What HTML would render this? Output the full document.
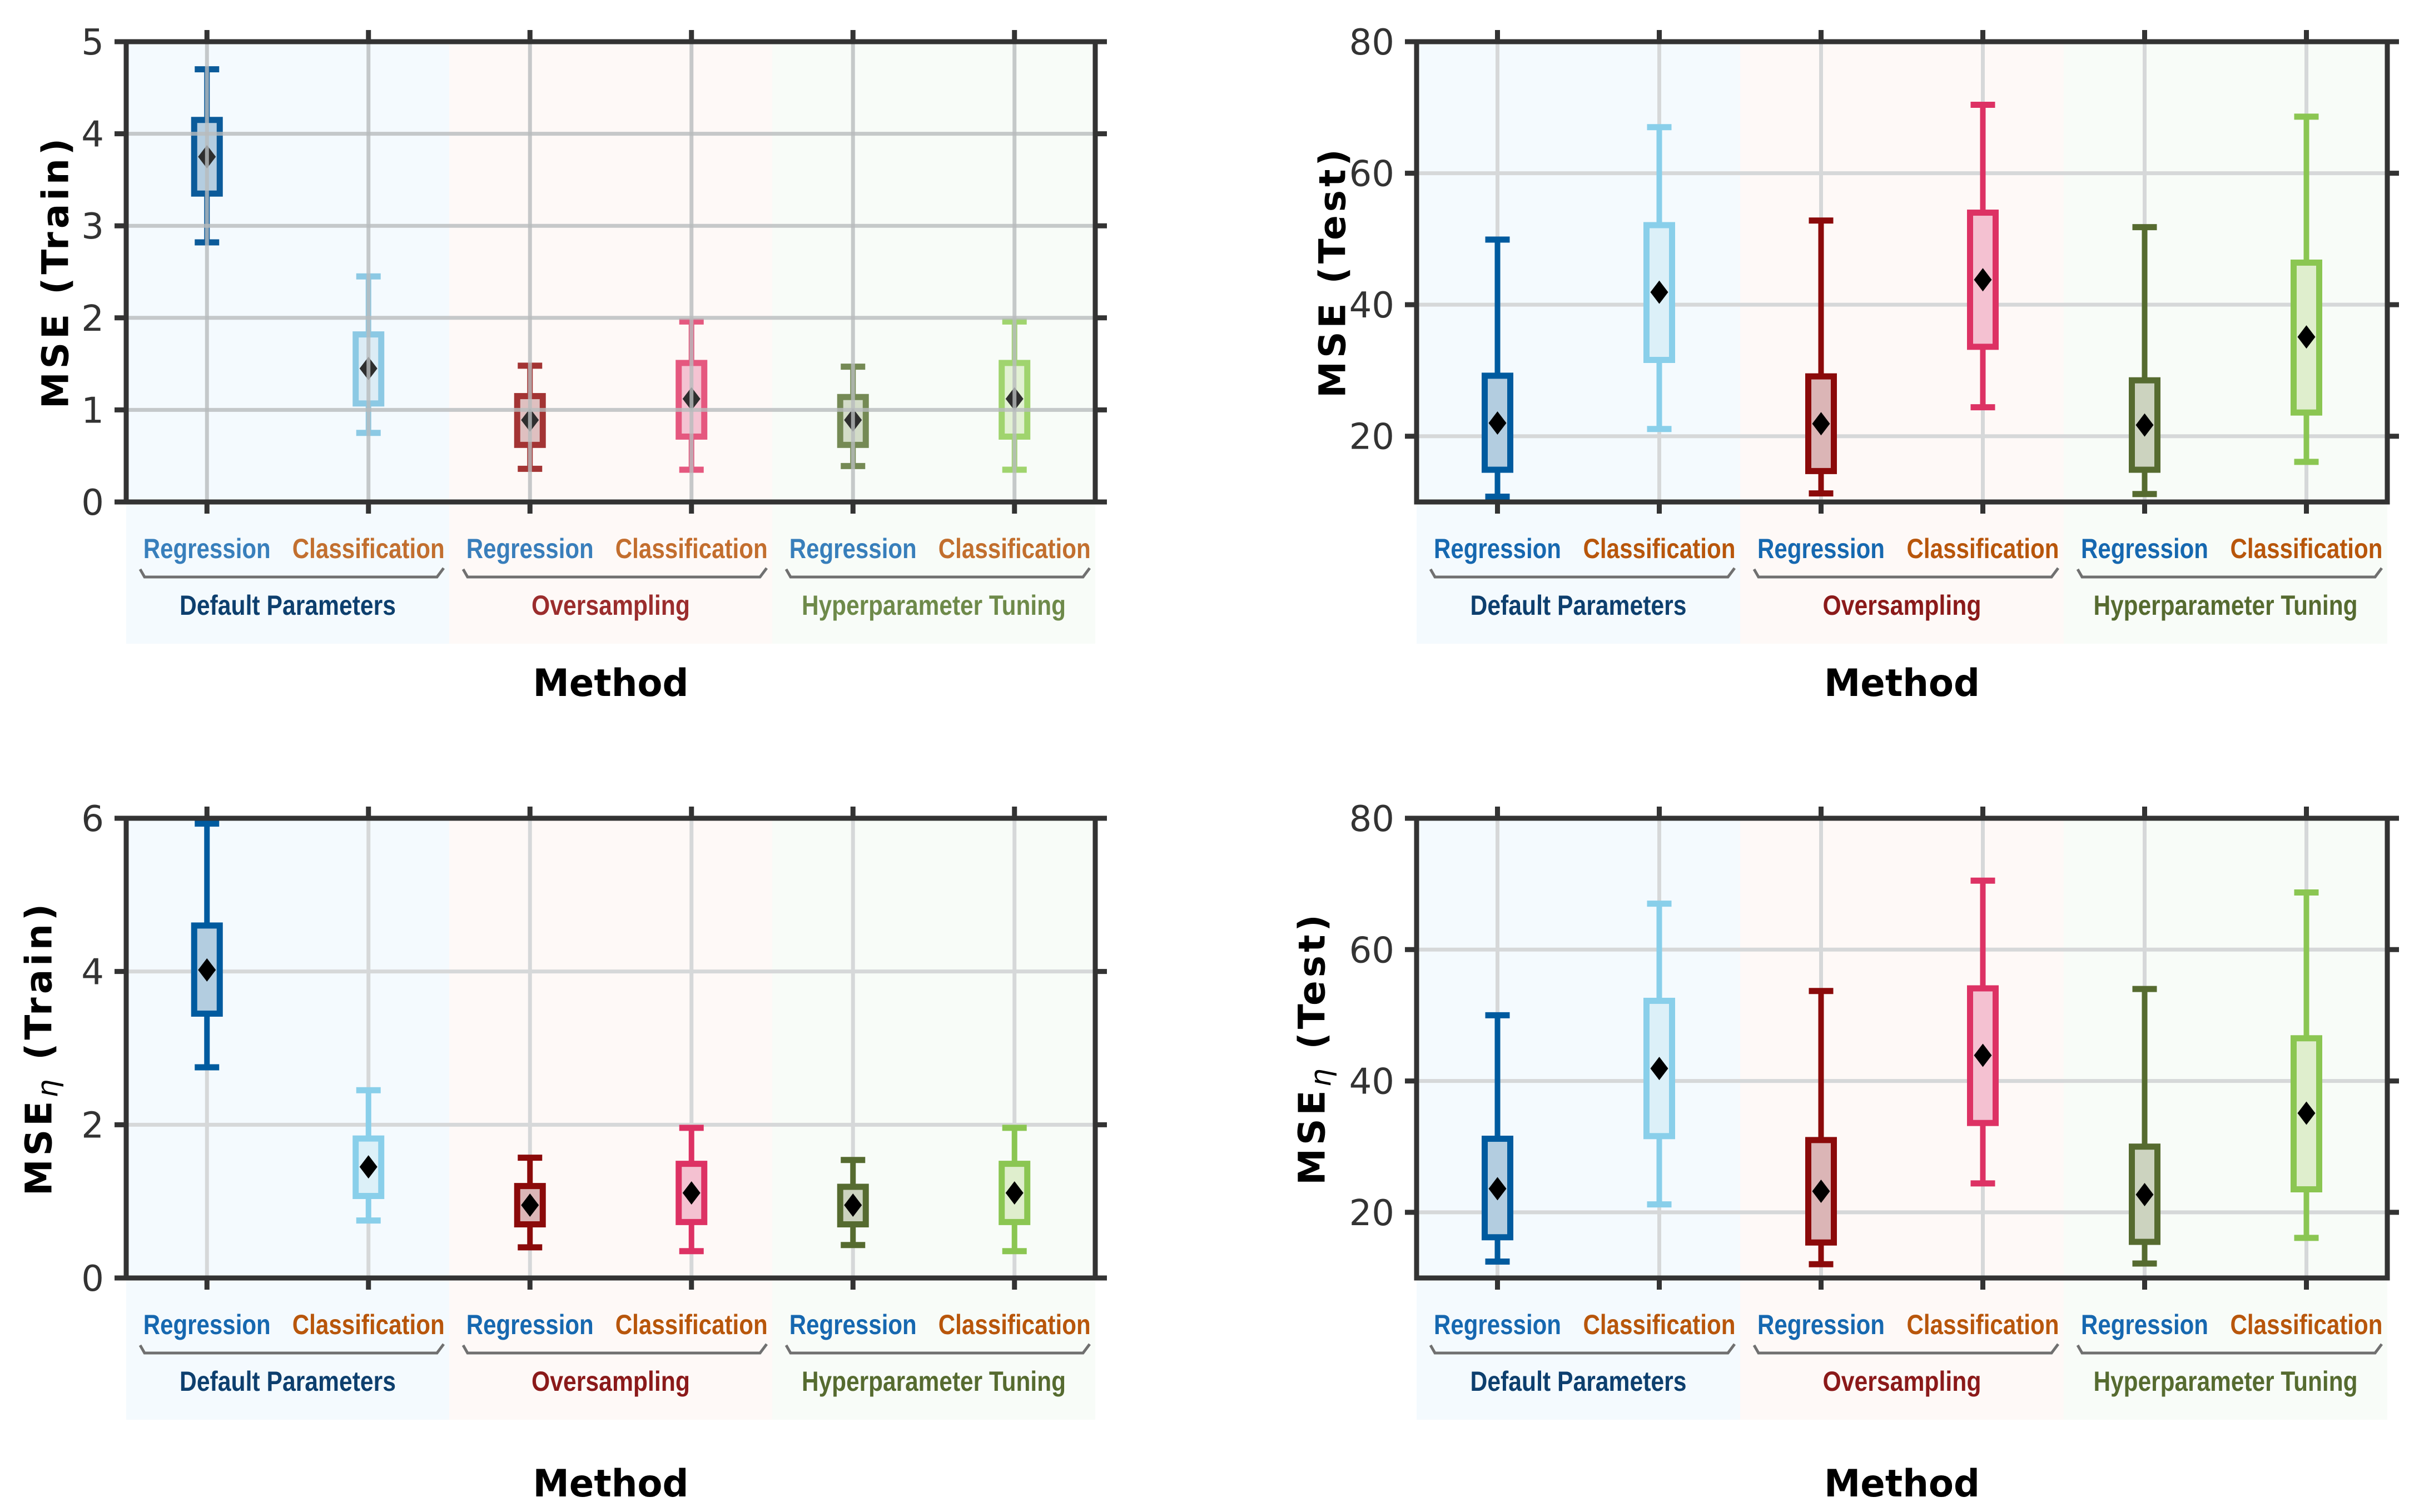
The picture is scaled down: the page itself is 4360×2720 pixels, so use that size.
<!DOCTYPE html>
<html><head><meta charset="utf-8">
<style>
html,body{margin:0;padding:0;background:#fff;}
svg{display:block;}
text{font-family:"DejaVu Sans","Liberation Sans",sans-serif;}
.lab{font-family:"Liberation Sans Narrow","Liberation Sans",sans-serif;font-weight:bold;}
</style></head>
<body>
<svg id="fig" xmlns="http://www.w3.org/2000/svg" width="4360" height="2720" viewBox="0 0 4360 2720"></svg>
<script>
// ---- data ----
const categories = ["Regression","Classification","Regression","Classification","Regression","Classification"];
const groups = ["Default Parameters","Oversampling","Hyperparameter Tuning"];

// Top-left: MSE (Train)
const tlLow  = [2.82, 0.75, 0.36, 0.35, 0.39, 0.35];
const tlQ1   = [3.35, 1.07, 0.62, 0.71, 0.62, 0.71];
const tlMean = [3.75, 1.45, 0.89, 1.12, 0.89, 1.12];
const tlQ3   = [4.15, 1.82, 1.15, 1.51, 1.14, 1.51];
const tlHigh = [4.70, 2.45, 1.48, 1.96, 1.47, 1.96];
const tlTicks = [0,1,2,3,4,5];

// Top-right: MSE (Test)
const trLow  = [10.8, 21.1, 11.3, 24.4, 11.2, 16.1];
const trQ1   = [14.9, 31.6, 14.7, 33.6, 14.9, 23.6];
const trMean = [22.0, 41.9, 21.9, 43.8, 21.7, 35.1];
const trQ3   = [29.2, 52.1, 29.1, 54.0, 28.5, 46.4];
const trHigh = [49.9, 67.0, 52.8, 70.4, 51.8, 68.6];
const trTicks = [20,40,60,80];

// Bottom-left: MSE_eta (Train)
const blLow  = [2.75, 0.75, 0.40, 0.35, 0.43, 0.35];
const blQ1   = [3.45, 1.07, 0.70, 0.73, 0.70, 0.73];
const blMean = [4.02, 1.45, 0.95, 1.11, 0.95, 1.11];
const blQ3   = [4.60, 1.82, 1.20, 1.49, 1.19, 1.49];
const blHigh = [5.93, 2.45, 1.57, 1.96, 1.54, 1.96];
const blTicks = [0,2,4,6];

// Bottom-right: MSE_eta (Test)
const brLow  = [12.5, 21.2, 12.1, 24.4, 12.2, 16.1];
const brQ1   = [16.2, 31.6, 15.4, 33.6, 15.5, 23.5];
const brMean = [23.6, 41.9, 23.2, 43.9, 22.7, 35.1];
const brQ3   = [31.2, 52.2, 31.0, 54.1, 30.0, 46.5];
const brHigh = [50.0, 67.0, 53.7, 70.5, 54.0, 68.7];
const brTicks = [20,40,60,80];

// ---- styling ----
const NS = "http://www.w3.org/2000/svg";
const svg = document.getElementById("fig");
const strongCol = ["#005b9f","#89cfea","#8b0a0a","#dd3264","#566b30","#8bc652"];
const strongFill = ["#b3cde0","#dcf0f8","#dbb5b6","#f4c1d1","#ccd3bf","#dfeecd"];
const fadeCol = ["#0b5b9a","#8cc9e4","#a33434","#e5587f","#758a55","#a0d46e"];
const fadeFill = ["#b4cde0","#dcecf5","#dfc0c0","#f4c3d2","#d3dcc8","#e2f1d3"];
const bgCol = ["#f4fafe","#fef9f7","#f8fcf8"];
const groupCol = ["#0d3f6e","#8b1a1a","#566b30"];
const groupColFade = ["#0d3f6e","#9b2d2d","#6e8a4a"];
const regCol = "#1668b0", clsCol = "#b8560b";

function el(tag, attrs, parent){
  const e = document.createElementNS(NS, tag);
  for (const k in attrs) e.setAttribute(k, attrs[k]);
  (parent||svg).appendChild(e);
  return e;
}

function panel(p){
  const g = el("g", {});
  
  
  const W = p.x1 - p.x0, step = W/6;
  const xc = i => p.x0 + step*(i+0.5);
  const ys = v => p.y1 - (v - p.ymin)/(p.ymax - p.ymin)*(p.y1 - p.y0);
  for (let k=0;k<3;k++){
    const r = el("rect",{x:p.x0+k*2*step, y:p.y0, width:2*step, height:(p.y1-p.y0)+255, fill:bgCol[k]}, g);
    
    
  }
  const gridG = el("g",{},g);
  const drawGrid = () => {
    p.ticks.forEach(t=>{
      const l = el("line",{x1:p.x0,x2:p.x1,y1:ys(t),y2:ys(t),stroke:p.fade?"#b8bcbd":"#d6d8d9","stroke-width":7,"stroke-opacity":p.fade?0.8:1}, gridG);
      
      
    });
    for (let i=0;i<6;i++){
      const l = el("line",{x1:xc(i),x2:xc(i),y1:p.y0,y2:p.y1,stroke:p.fade?"#b8bcbd":"#d6d8d9","stroke-width":7,"stroke-opacity":p.fade?0.8:1}, gridG);
      
      
    }
  };
  const boxG = el("g",{},g);
  const col = p.fade?fadeCol:strongCol, fil = p.fade?fadeFill:strongFill;
  for (let i=0;i<6;i++){
    const bx = el("g",{},boxG);
    
    
    const c = xc(i);
    el("line",{x1:c,x2:c,y1:ys(p.high[i]),y2:ys(p.q3[i]),stroke:col[i],"stroke-width":10},bx);
    el("line",{x1:c,x2:c,y1:ys(p.q1[i]),y2:ys(p.low[i]),stroke:col[i],"stroke-width":10},bx);
    el("line",{x1:c-22,x2:c+22,y1:ys(p.high[i]),y2:ys(p.high[i]),stroke:col[i],"stroke-width":11},bx);
    el("line",{x1:c-22,x2:c+22,y1:ys(p.low[i]),y2:ys(p.low[i]),stroke:col[i],"stroke-width":11},bx);
    el("rect",{x:c-23,y:ys(p.q3[i]),width:46,height:ys(p.q1[i])-ys(p.q3[i]),fill:fil[i],stroke:col[i],"stroke-width":11},bx);
    const m = ys(p.mean[i]);
    el("polygon",{points:`${c},${m-21} ${c+16},${m} ${c},${m+21} ${c-16},${m}`,fill:p.fade?"#2e2e2e":"#000"},bx);
  }
  if (p.fade) g.appendChild(gridG); else g.insertBefore(gridG, boxG);
  drawGrid();
  const ax = "#333";
  const frame = el("rect",{x:p.x0,y:p.y0,width:W,height:p.y1-p.y0,fill:"none",stroke:ax,"stroke-width":9},g);
  
  
  p.ticks.forEach(t=>{
    const y = ys(t);
    el("line",{x1:p.x0-21,x2:p.x0,y1:y,y2:y,stroke:ax,"stroke-width":9},g);
    el("line",{x1:p.x1,x2:p.x1+21,y1:y,y2:y,stroke:ax,"stroke-width":9},g);
    const tl = el("text",{x:p.x0-40,y:y+23,"text-anchor":"end","font-size":64,fill:"#333"},g);
    tl.textContent = t;
    
    
  });
  for (let i=0;i<6;i++){
    el("line",{x1:xc(i),x2:xc(i),y1:p.y0-21,y2:p.y0,stroke:ax,"stroke-width":9},g);
    el("line",{x1:xc(i),x2:xc(i),y1:p.y1,y2:p.y1+21,stroke:ax,"stroke-width":9},g);
    const t = el("text",{x:xc(i),y:p.y1+101,"text-anchor":"middle","font-size":50,fill:i%2?clsCol:regCol,"class":"lab",
      textLength:i%2?274:229,lengthAdjust:"spacingAndGlyphs","fill-opacity":p.fade?0.85:1},g);
    t.textContent = categories[i];
    
    
  }
  const gl = [389,285,475];
  for (let k=0;k<3;k++){
    const a = p.x0+k*2*step+25, b = p.x0+(k+1)*2*step-10, y = p.y1+135;
    const br = el("path",{d:`M${a},${y-14} L${a+8},${y} L${b-12},${y} L${b},${y-16}`,fill:"none",stroke:"#707070","stroke-width":5},g);
    
    
    const t = el("text",{x:p.x0+(k*2+1)*step,y:p.y1+203,"text-anchor":"middle","font-size":50,fill:p.fade?groupColFade[k]:groupCol[k],"class":"lab",
      textLength:gl[k],lengthAdjust:"spacingAndGlyphs"},g);
    t.textContent = groups[k];
    
    
  }
  const xt = el("text",{x:(p.x0+p.x1)/2,y:p.xTitleY,"text-anchor":"middle","font-size":68,"font-weight":"bold",fill:"#000",textLength:280,lengthAdjust:"spacingAndGlyphs"},g);
  xt.textContent = "Method";
  
  
  const cy = (p.y0+p.y1)/2;
  const yt = el("text",{x:p.yLabX,y:cy,"text-anchor":"middle","font-size":66,"font-weight":"bold",fill:"#000",
    transform:`rotate(-90 ${p.yLabX} ${cy})`,"dominant-baseline":"central","letter-spacing":6},g);
  
  
  if (p.sub){
    yt.appendChild(document.createTextNode("MSE"));
    const s = el("tspan",{"font-style":"italic","font-weight":"normal","font-size":52,"baseline-shift":"-30%",fill:"#000"},yt);
    s.textContent = "η";
    yt.appendChild(document.createTextNode(" "+p.yLab));
  } else {
    yt.textContent = "MSE "+p.yLab;
  }
}

panel({name:"panel-mse-train", x0:227,x1:1970,y0:75,y1:903,ymin:0,ymax:5,ticks:tlTicks,
  low:tlLow,q1:tlQ1,mean:tlMean,q3:tlQ3,high:tlHigh,fade:true,yLab:"(Train)",yLabX:100,xTitleY:1252});
panel({name:"panel-mse-test", x0:2548,x1:4294,y0:75,y1:903,ymin:10,ymax:80,ticks:trTicks,
  low:trLow,q1:trQ1,mean:trMean,q3:trQ3,high:trHigh,fade:false,yLab:"(Test)",yLabX:2397,xTitleY:1252});
panel({name:"panel-mse-eta-train", x0:227,x1:1970,y0:1472,y1:2299,ymin:0,ymax:6,ticks:blTicks,
  low:blLow,q1:blQ1,mean:blMean,q3:blQ3,high:blHigh,fade:false,sub:true,yLab:"(Train)",yLabX:70,xTitleY:2692});
panel({name:"panel-mse-eta-test", x0:2548,x1:4294,y0:1472,y1:2299,ymin:10,ymax:80,ticks:brTicks,
  low:brLow,q1:brQ1,mean:brMean,q3:brQ3,high:brHigh,fade:false,sub:true,yLab:"(Test)",yLabX:2360,xTitleY:2692});
</script>
</body></html>
